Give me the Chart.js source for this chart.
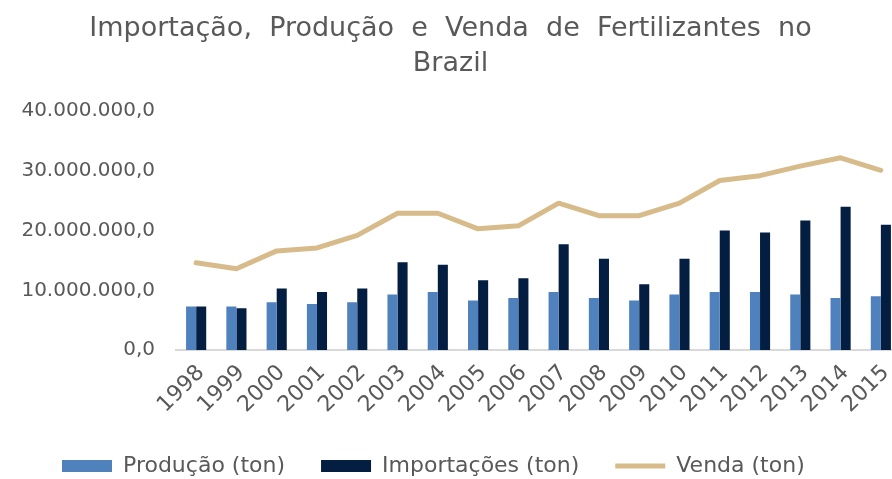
<!DOCTYPE html>
<html>
<head>
<meta charset="utf-8">
<script src="https://cdn.jsdelivr.net/npm/chart.js@4"></script>
<style>
  body { margin: 0; background: #fff; }
  #wrap { width: 892px; height: 479px; overflow: hidden; }
  #myChart { display: block; }
</style>
</head>
<body>
<div id="wrap"><canvas id="myChart" width="901" height="487"></canvas></div>
<script>
// Data (tons)
const years = ['1998', '1999', '2000', '2001', '2002', '2003', '2004', '2005', '2006',
  '2007', '2008', '2009', '2010', '2011', '2012', '2013', '2014', '2015'];
const producao = [7300000, 7300000, 8000000, 7700000, 8000000, 9300000, 9700000, 8300000, 8700000,
  9700000, 8700000, 8300000, 9300000, 9700000, 9700000, 9300000, 8700000, 9000000];
const importacoes = [7300000, 7000000, 10300000, 9700000, 10300000, 14700000, 14300000, 11700000, 12000000,
  17700000, 15300000, 11000000, 15300000, 20000000, 19700000, 21700000, 24000000, 21000000];
const venda = [14600000, 13600000, 16600000, 17100000, 19200000, 22900000, 22900000, 20300000, 20800000,
  24600000, 22500000, 22500000, 24600000, 28400000, 29200000, 30800000, 32200000, 30100000];
const yTicks = [0, 10000000, 20000000, 30000000, 40000000];

const grey = '#595959';
const font = 'DejaVu Sans';

// pt-BR number format, one decimal
function fmt(v) {
  const parts = v.toFixed(1).split('.');
  const intPart = parts[0].replace(/\B(?=(\d{3})+(?!\d))/g, '.');
  return intPart + ',' + parts[1];
}

// nudge the legend to the right without moving the title
const legendShift = {
  id: 'legendShift',
  afterLayout(chart) {
    if (chart.legend) chart.legend.left = 26;
  }
};

const ctx = document.getElementById('myChart').getContext('2d');

const myChart = new Chart(ctx, {
  type: 'bar',
  data: {
    labels: years,
    datasets: [
      {
        type: 'line',
        label: 'Venda (ton)',
        data: venda,
        borderColor: '#d7bb8a',
        backgroundColor: '#d7bb8a',
        borderWidth: 5,
        borderCapStyle: 'round',
        borderJoinStyle: 'round',
        pointRadius: 0,
        pointStyle: 'line',
        tension: 0,
        order: 0
      },
      {
        label: 'Produção (ton)',
        data: producao,
        backgroundColor: '#4f81bd',
        pointStyle: 'rect',
        order: 1
      },
      {
        label: 'Importações (ton)',
        data: importacoes,
        backgroundColor: '#041e42',
        pointStyle: 'rect',
        order: 1
      }
    ]
  },
  plugins: [legendShift],
  options: {
    responsive: false,
    animation: false,
    layout: { padding: 0 },
    datasets: {
      bar: { barPercentage: 1, categoryPercentage: 0.5 }
    },
    plugins: {
      title: {
        display: true,
        text: ['Importação,  Produção  e  Venda  de  Fertilizantes  no', 'Brazil'],
        color: grey,
        font: { family: font, size: 27, weight: 'normal', lineHeight: 1.3 },
        padding: { top: 11, bottom: 30 }
      },
      legend: {
        position: 'bottom',
        align: 'start',
        labels: {
          usePointStyle: true,
          pointStyleWidth: 50,
          boxHeight: 12,
          padding: 36,
          color: grey,
          font: { family: font, size: 22 },
          sort: (a, b) => {
            const rank = { 'Produção (ton)': 0, 'Importações (ton)': 1, 'Venda (ton)': 2 };
            return rank[a.text] - rank[b.text];
          }
        }
      },
      tooltip: { enabled: false }
    },
    scales: {
      x: {
        grid: { display: false, drawTicks: false },
        border: { display: true, color: '#d9d9d9', width: 2 },
        ticks: {
          color: grey,
          font: { family: font, size: 22 },
          autoSkip: false,
          minRotation: 45,
          maxRotation: 45,
          padding: 10,
          labelOffset: 5
        },
        afterFit: (scale) => {
          scale.height = 69;
          scale.paddingRight = 0;
        }
      },
      y: {
        min: 0,
        max: 40000000,
        grid: { display: false, drawTicks: false },
        border: { display: false },
        afterBuildTicks: (scale) => { scale.ticks = yTicks.map(v => ({ value: v })); },
        ticks: {
          color: grey,
          font: { family: font, size: 20 },
          padding: 21,
          callback: (v) => fmt(v)
        },
        afterFit: (scale) => { scale.width = 176; }
      }
    }
  }
});
</script>
</body>
</html>
